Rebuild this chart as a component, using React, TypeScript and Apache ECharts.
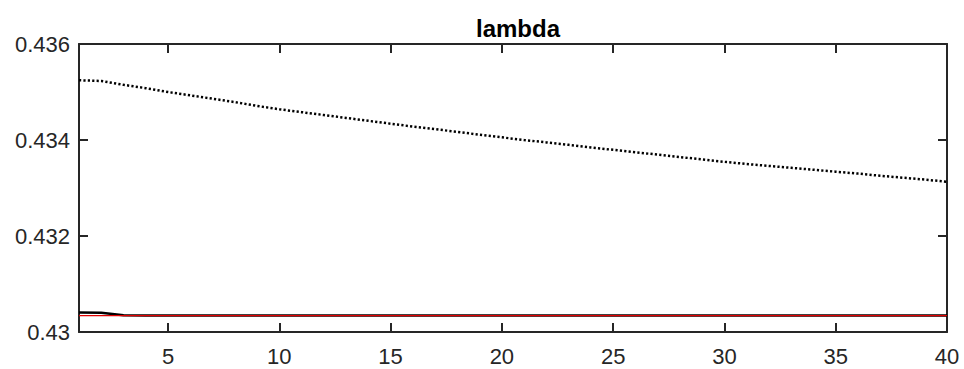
import React, { useEffect, useRef } from "react";
import * as echarts from "echarts";

const xValues: number[] = Array.from({ length: 40 }, (_, i) => i + 1);
const xTickValues: number[] = [5, 10, 15, 20, 25, 30, 35, 40];
const yTickValues: number[] = [0.43, 0.432, 0.434, 0.436];

const dottedSeries: number[] = [
  0.435245, 0.43523, 0.43515, 0.43508, 0.435, 0.43493, 0.43486, 0.43479, 0.43471, 0.43464,
  0.43458, 0.43452, 0.43446, 0.4344, 0.43434, 0.43428, 0.434225, 0.43417, 0.43411, 0.434055,
  0.434, 0.43395, 0.4339, 0.433845, 0.433795, 0.433745, 0.433695, 0.433645, 0.433595, 0.433545,
  0.4335, 0.43346, 0.43342, 0.43338, 0.43334, 0.4333, 0.433255, 0.433215, 0.433175, 0.43313,
];

const blackSeries: number[] = [
  0.430405, 0.4304, 0.430348, 0.430346, 0.430346, 0.430346, 0.430346, 0.430346, 0.430346, 0.430346,
  0.430346, 0.430346, 0.430346, 0.430346, 0.430346, 0.430346, 0.430346, 0.430346, 0.430346, 0.430346,
  0.430346, 0.430346, 0.430346, 0.430346, 0.430346, 0.430346, 0.430346, 0.430346, 0.430346, 0.430346,
  0.430346, 0.430346, 0.430346, 0.430346, 0.430346, 0.430346, 0.430346, 0.430346, 0.430346, 0.430346,
];

const redSeries: number[] = [
  0.43034, 0.43034, 0.43034, 0.43034, 0.43034, 0.43034, 0.43034, 0.43034, 0.43034, 0.43034,
  0.43034, 0.43034, 0.43034, 0.43034, 0.43034, 0.43034, 0.43034, 0.43034, 0.43034, 0.43034,
  0.43034, 0.43034, 0.43034, 0.43034, 0.43034, 0.43034, 0.43034, 0.43034, 0.43034, 0.43034,
  0.43034, 0.43034, 0.43034, 0.43034, 0.43034, 0.43034, 0.43034, 0.43034, 0.43034, 0.43034,
];

const AX = "#262626";
const FONT = "'Liberation Sans', Arial, Helvetica, sans-serif";

export default function App() {
  const ref = useRef<HTMLDivElement>(null);
  useEffect(() => {
    if (!ref.current) return;
    const chart = echarts.init(ref.current, undefined, { renderer: "svg" });
    const pair = (ys: number[]) => xValues.map((x, i) => [x, ys[i]]);
    const xAxisBase = {
      type: "value" as const,
      min: 1,
      max: 40,
      splitLine: { show: false },
      axisLine: { show: true, onZero: false, lineStyle: { color: AX, width: 2 } },
      axisTick: { show: true, inside: true, length: 9, customValues: xTickValues, lineStyle: { color: AX, width: 2 } },
    };
    const yAxisBase = {
      type: "value" as const,
      min: 0.43,
      max: 0.436,
      interval: 0.002,
      splitLine: { show: false },
      axisLine: { show: true, onZero: false, lineStyle: { color: AX, width: 2 } },
      axisTick: { show: true, inside: true, length: 9, customValues: yTickValues, lineStyle: { color: AX, width: 2 } },
    };
    chart.setOption({
      animation: false,
      backgroundColor: "#ffffff",
      title: {
        text: "lambda",
        left: 513,
        top: 11,
        textAlign: "center",
        textStyle: { fontFamily: FONT, fontSize: 24, fontWeight: "bold", color: "#000000" },
      },
      grid: { left: 79, right: 17, top: 44, bottom: 37, containLabel: false },
      xAxis: [
        {
          ...xAxisBase,
          position: "bottom",
          axisLabel: {
            show: true,
            customValues: xTickValues,
            margin: 13,
            fontFamily: FONT,
            fontSize: 22,
            color: AX,
          },
        },
        { ...xAxisBase, position: "top", axisLabel: { show: false } },
      ],
      yAxis: [
        {
          ...yAxisBase,
          position: "left",
          axisLabel: {
            show: true,
            margin: 9,
            fontFamily: FONT,
            fontSize: 22,
            color: AX,
            formatter: (v: number) => String(parseFloat(v.toFixed(3))),
          },
        },
        { ...yAxisBase, position: "right", axisLabel: { show: false } },
      ],
      series: [
        {
          type: "line",
          data: pair(dottedSeries),
          showSymbol: false,
          symbol: "none",
          lineStyle: { color: "#000000", width: 2.5, type: [2.2, 2.2] },
          z: 3,
        },
        {
          type: "line",
          data: pair(blackSeries),
          showSymbol: false,
          symbol: "none",
          lineStyle: { color: "#000000", width: 2.5 },
          z: 2,
        },
        {
          type: "line",
          data: pair(redSeries),
          showSymbol: false,
          symbol: "none",
          lineStyle: { color: "#e00000", width: 1.2 },
          z: 4,
        },
      ],
    });
    return () => chart.dispose();
  }, []);
  return (
    <div
      ref={ref}
      style={{ position: "fixed", left: 0, top: 0, width: 964, height: 369, background: "#fff" }}
    />
  );
}
